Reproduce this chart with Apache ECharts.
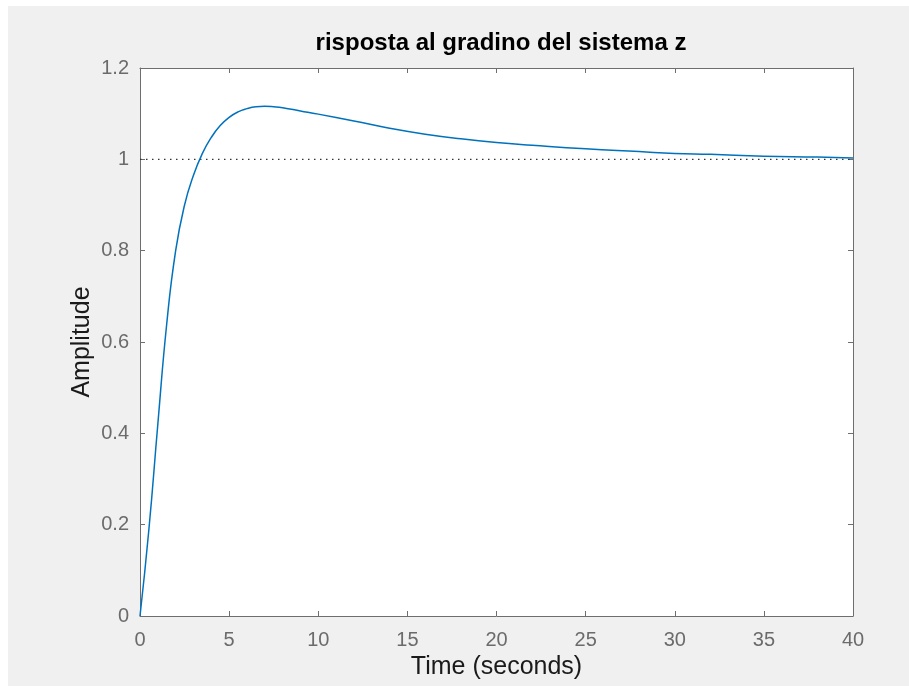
<!DOCTYPE html>
<html lang="it">
<head>
    <meta charset="UTF-8">
    <title>risposta al gradino</title>
    <script src="https://cdn.jsdelivr.net/npm/echarts@6/dist/echarts.min.js"></script>
    <style>
        html, body { margin: 0; padding: 0; background: #fff; }
        #chart { width: 909px; height: 686px; }
    </style>
</head>
<body>
<div id="chart"></div>
<script>
    // tempo (s) e ampiezza
    const timeValues = [0, 0.5, 1, 1.5, 2, 2.5, 3, 3.5, 4, 4.5, 5, 5.5, 6, 6.5, 7, 7.5, 8, 9, 10, 12, 14, 16, 18, 20, 22, 25, 28, 30, 32, 35, 38, 40];
    const amplitude = [0, 0.19, 0.42, 0.64, 0.80, 0.90, 0.965, 1.013, 1.048, 1.074, 1.092, 1.104, 1.111, 1.115, 1.116, 1.115, 1.113, 1.106, 1.099, 1.084, 1.068, 1.055, 1.045, 1.037, 1.031, 1.023, 1.017, 1.013, 1.011, 1.007, 1.005, 1.003];
    const xTicks = [0, 5, 10, 15, 20, 25, 30, 35, 40];
    const yTicks = [0, 0.2, 0.4, 0.6, 0.8, 1, 1.2];
    const steadyState = 1;

    const chart = echarts.init(document.getElementById('chart'));

    const axisGray = '#6e6e6e';
    const labelGray = '#6b6b6b';
    const font = 'Liberation Sans, Arial, Helvetica, sans-serif';

    const boxAxis = {
        axisLine: {show: true, onZero: false, lineStyle: {color: axisGray, width: 1}},
        axisTick: {show: true, inside: true, length: 5, lineStyle: {color: axisGray}},
        splitLine: {show: false}
    };

    const option = {
        animation: false,
        graphic: [{
            type: 'rect', z: -10, silent: true,
            shape: {x: 8, y: 6, width: 901, height: 680},
            style: {fill: '#f0f0f0'}
        }],
        title: {
            text: 'risposta al gradino del sistema z',
            left: 496, top: 26, textAlign: 'center',
            textStyle: {fontFamily: font, fontSize: 24, fontWeight: 'bold', color: '#000'}
        },
        grid: {
            left: 140, right: 56, top: 68, bottom: 70,
            show: true, backgroundColor: '#fff', borderWidth: 0
        },
        xAxis: [
            Object.assign({
                type: 'value', min: xTicks[0], max: xTicks[xTicks.length - 1], interval: 5,
                name: 'Time (seconds)', nameLocation: 'middle', nameGap: 36,
                nameTextStyle: {fontFamily: font, fontSize: 25, color: '#1a1a1a'},
                axisLabel: {fontFamily: font, fontSize: 20, color: labelGray, margin: 14}
            }, boxAxis),
            Object.assign({
                type: 'value', position: 'top', min: 0, max: 40, interval: 5,
                axisLabel: {show: false}
            }, boxAxis)
        ],
        yAxis: [
            Object.assign({
                type: 'value', min: yTicks[0], max: yTicks[yTicks.length - 1], interval: 0.2,
                name: 'Amplitude', nameLocation: 'middle', nameGap: 45, nameMoveOverlap: false,
                nameTextStyle: {fontFamily: font, fontSize: 25, color: '#1a1a1a'},
                axisLabel: {fontFamily: font, fontSize: 20, color: labelGray, margin: 11,
                    formatter: function (v) { return String(Math.round(v * 10) / 10); }}
            }, boxAxis),
            Object.assign({
                type: 'value', position: 'right', min: 0, max: 1.2, interval: 0.2,
                axisLabel: {show: false}
            }, boxAxis)
        ],
        series: [
            {
                type: 'line',
                data: [[0, steadyState], [40, steadyState]],
                symbol: 'none',
                lineStyle: {color: '#333', width: 1.3, type: [1.5, 4.5]},
                silent: true
            },
            {
                type: 'line',
                data: timeValues.map((t, i) => [t, amplitude[i]]),
                symbol: 'none',
                smooth: 0.5,
                lineStyle: {color: '#0072bd', width: 1.5}
            }
        ]
    };

    chart.setOption(option);
</script>
</body>
</html>
